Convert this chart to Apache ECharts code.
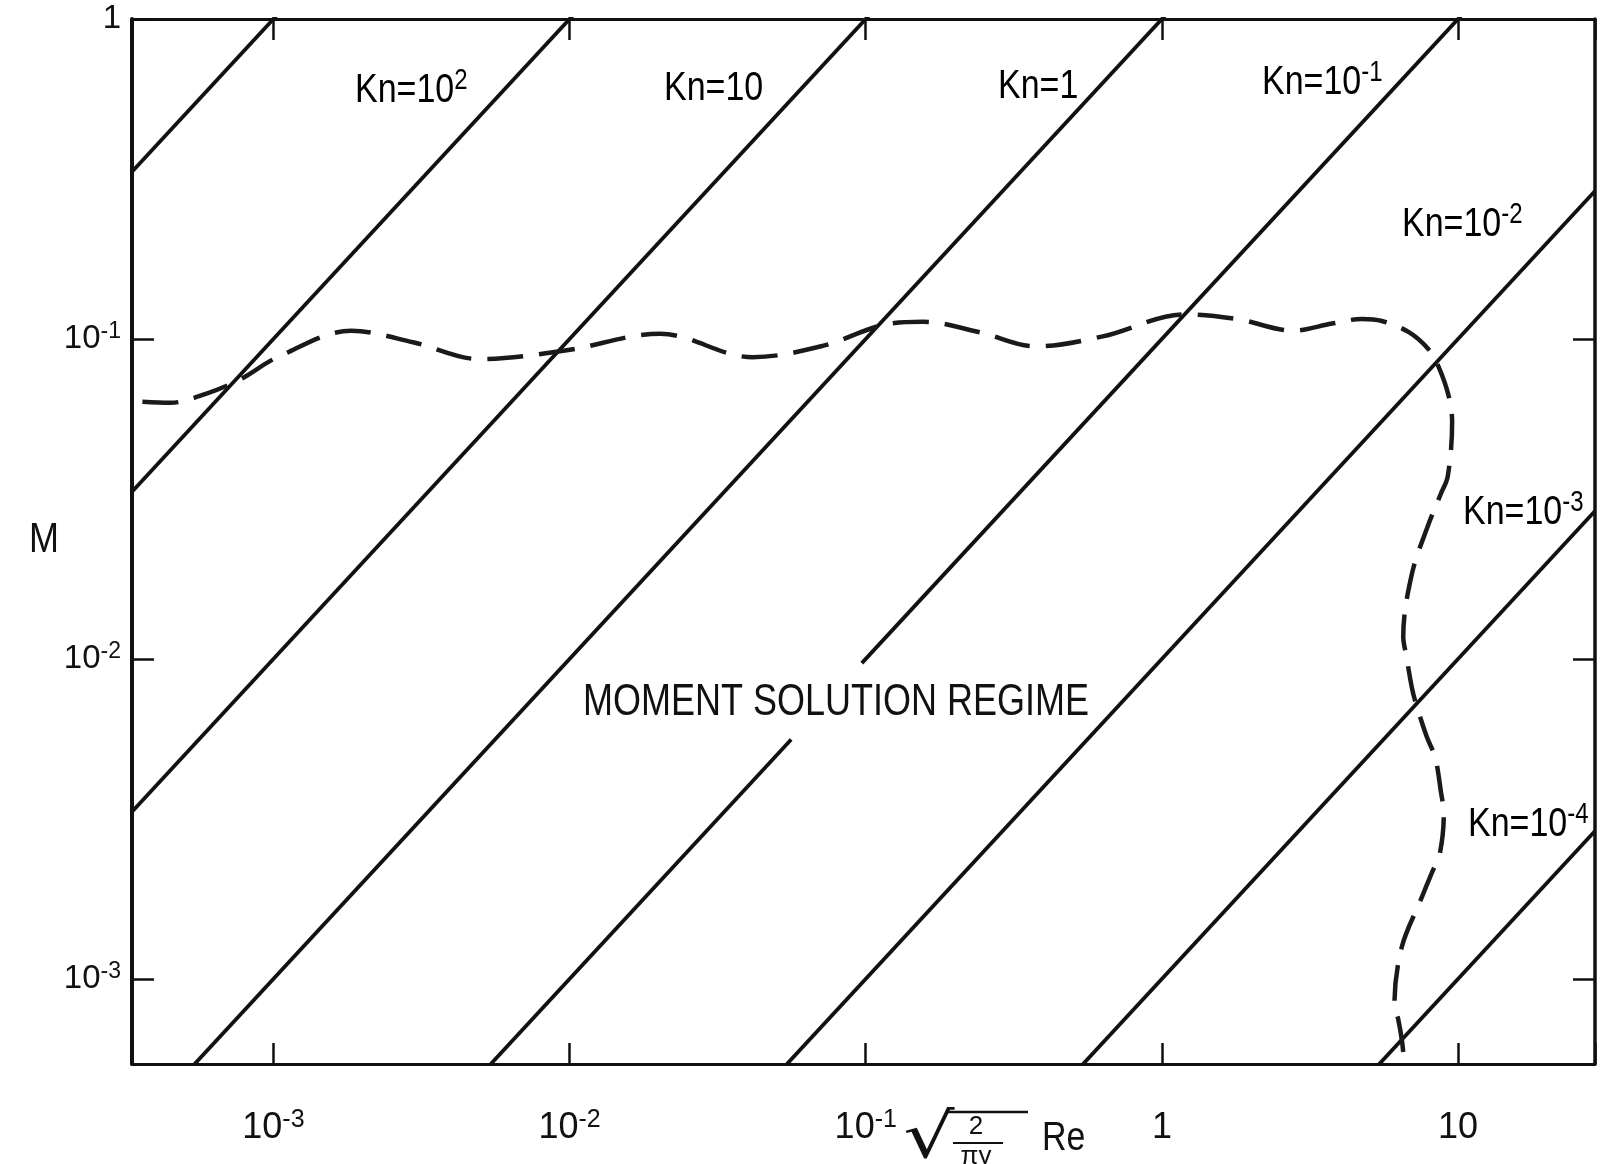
<!DOCTYPE html>
<html>
<head>
<meta charset="utf-8">
<script src="https://cdn.jsdelivr.net/npm/echarts@6/dist/echarts.min.js"></script>
<style>
html,body{margin:0;padding:0;background:#ffffff;}
#chart{width:1614px;height:1164px;}
</style>
</head>
<body>
<div id="chart"></div>
<script>
// ---------------- data ----------------
const xRange = [3.33e-4, 29];
const yRange = [5.42e-4, 1];
const xTickValues = [1e-3, 1e-2, 1e-1, 1, 10];
const yTickValues = [1e-3, 1e-2, 1e-1, 1];
const knValues = [1e3, 1e2, 10, 1, 0.1, 0.01, 1e-3, 1e-4];
const gapKn = [0.1];
const gapStart = [0.056];
const gapEnd = [0.097];
const knLabelBase = ['Kn=10', 'Kn=10', 'Kn=1', 'Kn=10', 'Kn=10', 'Kn=10', 'Kn=10'];
const knLabelSup = ['2', '', '', '-1', '-2', '-3', '-4'];
const regimeLabel = 'MOMENT SOLUTION REGIME';
const curveX = [3.61e-4, 4.49e-4, 5.94e-4, 7.67e-4, 1.04e-3, 1.83e-3, 2.96e-3, 4.97e-3, 9.66e-3, 0.0202,
  0.0415, 0.0726, 0.113, 0.156, 0.242, 0.375, 0.632, 1.20, 1.79, 2.78,
  3.75, 4.73, 5.53, 6.82, 7.96, 8.59, 9.27, 9.55, 9.23, 8.73,
  7.94, 6.98, 6.53, 6.68, 6.98, 7.19, 7.83, 8.37, 8.75, 8.95,
  8.67, 8.20, 7.45, 6.46, 6.10, 6.28, 6.47, 6.58];
const curveM = [0.0637, 0.0632, 0.0675, 0.0745, 0.0880, 0.1060, 0.0977, 0.0865, 0.0920, 0.1038,
  0.0877, 0.0955, 0.1103, 0.1132, 0.105, 0.0948, 0.1019, 0.1194, 0.1155, 0.1062,
  0.1117, 0.1155, 0.1138, 0.105, 0.0927, 0.0820, 0.0670, 0.0551, 0.0372, 0.0327,
  0.0263, 0.0184, 0.0117, 0.0103, 8.15e-3, 7.31e-3, 5.73e-3, 4.92e-3, 3.85e-3, 3.27e-3,
  2.45e-3, 2.17e-3, 1.75e-3, 1.26e-3, 8.34e-4, 7.48e-4, 6.38e-4, 5.42e-4];

// ---------------- fonts ----------------
function hasFont(f) {
  const c = document.createElement('canvas').getContext('2d');
  c.font = '40px monospace';
  const a = c.measureText('Kn=10 MOMENT').width;
  c.font = '40px "' + f + '", monospace';
  const b = c.measureText('Kn=10 MOMENT').width;
  return Math.abs(a - b) > 0.5;
}
const narrow = ['Liberation Sans Narrow', 'Arial Narrow'].find(hasFont);
const FONT = narrow ? '"' + narrow + '", "Liberation Sans", sans-serif' : '"Liberation Sans", Arial, sans-serif';
const F = narrow ? 1.2 : 1.0;
const SY = narrow ? 1.0 : 1.2;   // vertical stretch imitating the condensed lettering
const INK = '#111111';

// ---------------- layout ----------------
const G = { left: 132, right: 19, top: 19, bottom: 100 };
const xTickFont = Math.round(36 * F), xSupFont = Math.round(25 * F);
const yTickFont = Math.round(33 * F), ySupFont = Math.round(23 * F);
const knFont = Math.round(34 * F), knSup = Math.round(24 * F);

function richFor(base, sup, bl, sl) {
  return {
    b: { fontSize: base, fontFamily: FONT, color: INK, lineHeight: bl },
    s: { fontSize: sup, fontFamily: FONT, color: INK, lineHeight: sl, verticalAlign: 'top' }
  };
}
function powLabel(v) {
  const e = Math.log10(v), r = Math.round(e);
  if (Math.abs(e - r) > 1e-6) return '';
  if (r === 0) return '{b|1}';
  if (r === 1) return '{b|10}';
  return '{b|10}{s|' + r + '}';
}

// ---------------- series ----------------
const series = [];
knValues.forEach(function (kn) {
  const gi = gapKn.indexOf(kn);
  const segs = gi >= 0 ? [[xRange[0], gapStart[gi]], [gapEnd[gi], xRange[1]]] : [[xRange[0], xRange[1]]];
  segs.forEach(function (s) {
    series.push({
      type: 'line', xAxisIndex: 0, yAxisIndex: 0, silent: true, animation: false,
      symbol: 'none', clip: true,
      lineStyle: { color: INK, width: 3.8 },
      data: [[s[0], kn * s[0]], [s[1], kn * s[1]]]
    });
  });
});
series.push({
  type: 'line', xAxisIndex: 0, yAxisIndex: 0, silent: true, animation: false,
  symbol: 'none', smooth: 0.35, clip: true,
  lineStyle: { color: '#1a1a1a', width: 4.5, type: [36, 16] },
  data: curveX.map(function (x, i) { return [x, curveM[i]]; })
});

// ---------------- annotations ----------------
const knPos = [[355, 91], [664, 89], [998, 87], [1262, 83], [1402, 225], [1463, 513], [1468, 825]];
const graphic = [];
knLabelBase.forEach(function (b, i) {
  graphic.push({
    type: 'text', x: knPos[i][0], y: knPos[i][1], scaleY: SY, silent: true,
    style: {
      text: '{b|' + b + '}' + (knLabelSup[i] ? '{s|' + knLabelSup[i] + '}' : ''),
      rich: richFor(knFont, knSup, Math.round(knFont * 1.2), 4),
      align: 'left', verticalAlign: 'middle'
    }
  });
});
graphic.push({
  type: 'text', x: 836, y: 703, scaleY: narrow ? 1.0 : 1.25, silent: true,
  style: { text: regimeLabel, font: Math.round(36 * F) + 'px ' + FONT, fill: INK, align: 'center', verticalAlign: 'middle' }
});
graphic.push({
  type: 'text', x: 44, y: 540, scaleY: SY, silent: true,
  style: { text: 'M', font: '36px ' + FONT, fill: INK, align: 'center', verticalAlign: 'middle' }
});
// x-axis title: sqrt(2/(pi gamma)) Re
graphic.push({
  type: 'text', x: 929, y: 1141, scaleX: 1.3, silent: true,
  style: { text: '\u221A', font: '62px "DejaVu Sans", sans-serif', fill: INK, align: 'center', verticalAlign: 'middle' }
});
graphic.push({ type: 'line', silent: true, shape: { x1: 948, y1: 1112, x2: 1028, y2: 1112 }, style: { stroke: INK, lineWidth: 2.5 } });
graphic.push({
  type: 'text', x: 976, y: 1127, silent: true,
  style: { text: '2', font: '26px ' + FONT, fill: INK, align: 'center', verticalAlign: 'middle' }
});
graphic.push({ type: 'line', silent: true, shape: { x1: 953, y1: 1143, x2: 1003, y2: 1143 }, style: { stroke: INK, lineWidth: 2 } });
graphic.push({
  type: 'text', x: 976, y: 1157, silent: true,
  style: { text: '\u03C0\u03B3', font: '26px ' + FONT, fill: INK, align: 'center', verticalAlign: 'middle' }
});
graphic.push({
  type: 'text', x: 1042, y: 1139, scaleY: SY, silent: true,
  style: { text: 'Re', font: Math.round(34 * F) + 'px ' + FONT, fill: INK, align: 'left', verticalAlign: 'middle' }
});

// ---------------- axes ----------------
function xAxisCfg(pos, labels) {
  return {
    type: 'log', logBase: 10, position: pos, min: xRange[0], max: xRange[1],
    axisLine: { show: true, onZero: false, lineStyle: { color: INK, width: 3 } },
    axisTick: { show: true, inside: true, length: 21, lineStyle: { color: INK, width: 2.5 } },
    minorTick: { show: false }, splitLine: { show: false },
    axisLabel: {
      show: labels, margin: 44, showMinLabel: true, showMaxLabel: true,
      formatter: powLabel, rich: richFor(xTickFont, xSupFont, 40, 10)
    }
  };
}
function yAxisCfg(pos, labels) {
  return {
    type: 'log', logBase: 10, position: pos, min: yRange[0], max: yRange[1],
    axisLine: { show: true, onZero: false, lineStyle: { color: INK, width: pos === 'left' ? 4 : 3.5 } },
    axisTick: { show: true, inside: true, length: 22, lineStyle: { color: INK, width: 2.5 } },
    minorTick: { show: false }, splitLine: { show: false },
    axisLabel: {
      show: labels, margin: 11, showMinLabel: true, showMaxLabel: true,
      formatter: powLabel, rich: richFor(yTickFont, ySupFont, 38, 10)
    }
  };
}

const chart = echarts.init(document.getElementById('chart'), null, { renderer: 'canvas' });
chart.setOption({
  backgroundColor: '#ffffff',
  animation: false,
  grid: { left: G.left, right: G.right, top: G.top, bottom: G.bottom, containLabel: false, outerBoundsMode: 'none' },
  xAxis: [xAxisCfg('bottom', true), xAxisCfg('top', false)],
  yAxis: [yAxisCfg('left', true), yAxisCfg('right', false)],
  series: series,
  graphic: graphic
});
</script>
</body>
</html>
